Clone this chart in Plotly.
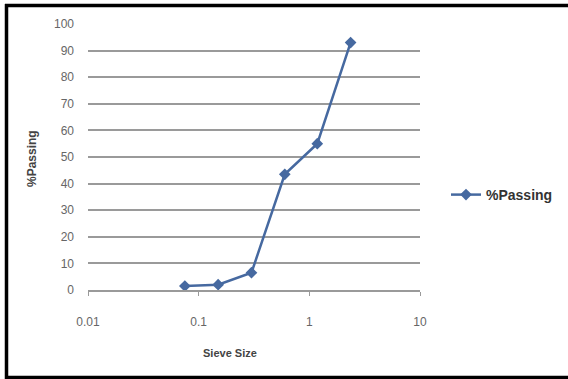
import plotly.graph_objects as go

sieve_size = [0.075, 0.15, 0.3, 0.6, 1.18, 2.36]
pct_passing = [1.5, 2.0, 6.5, 43.5, 55.0, 93.0]
x_ticks = [0.01, 0.1, 1, 10]
x_tick_labels = ["0.01", "0.1", "1", "10"]
y_ticks = [0, 10, 20, 30, 40, 50, 60, 70, 80, 90, 100]

L, R, T, B = 88, 148, 24, 89
W, H = 568, 379
pw, ph = W - L - R, H - T - B

def px(x):
    return (x - L) / pw

def py(y):
    return (H - B - y) / ph

line_color = "#4669a0"
grid_color = "#9a9a9a"
tick_font = dict(family="Liberation Sans, Arial", size=12, color="#666666")
frame = dict(color="black", width=3.5)

fig = go.Figure()
fig.add_trace(go.Scatter(
    x=sieve_size, y=pct_passing, mode="lines+markers", name="<b>%Passing</b>",
    line=dict(color=line_color, width=2.5),
    marker=dict(symbol="diamond", size=9, color=line_color),
))

fig.update_layout(
    width=W, height=H,
    margin=dict(l=L, r=R, t=T, b=B, autoexpand=False),
    paper_bgcolor="white", plot_bgcolor="white",
    showlegend=True,
    legend=dict(x=px(446), y=py(195), xanchor="left", yanchor="middle",
                font=dict(family="Liberation Sans, Arial", size=14, color="#333333"),
                bgcolor="rgba(0,0,0,0)"),
    xaxis=dict(type="log", range=[-2, 1], tickvals=x_ticks, ticktext=x_tick_labels,
               showgrid=False, zeroline=False, showline=True, linecolor=grid_color,
               linewidth=2, ticks="outside", ticklen=4, tickcolor=grid_color,
               tickfont=tick_font, ticklabelstandoff=16),
    yaxis=dict(range=[0, 100], tickvals=y_ticks, showgrid=True, gridcolor=grid_color,
               gridwidth=2, zeroline=False, showline=False, ticks="",
               tickfont=tick_font, ticklabelstandoff=13),
    annotations=[
        dict(text="<b>Sieve Size</b>", x=px(230), y=py(353), xref="paper", yref="paper",
             xanchor="center", yanchor="middle", showarrow=False,
             font=dict(family="Liberation Sans, Arial", size=11, color="#444444")),
        dict(text="<b>%Passing</b>", x=px(32), y=py(159), xref="paper", yref="paper",
             xanchor="center", yanchor="middle", showarrow=False, textangle=-90,
             font=dict(family="Liberation Sans, Arial", size=12, color="#444444")),
    ],
    shapes=[
        dict(type="line", xref="paper", yref="paper", x0=px(6.5), x1=px(6.5),
             y0=py(4), y1=py(379), line=frame),
        dict(type="line", xref="paper", yref="paper", x0=px(5), x1=px(570),
             y0=py(5.5), y1=py(5.5), line=frame),
        dict(type="line", xref="paper", yref="paper", x0=px(5), x1=px(570),
             y0=py(377.5), y1=py(377.5), line=frame),
    ],
)

fig.write_html("out.html", config={"displayModeBar": False},
               post_script="document.body.style.margin='0';")
